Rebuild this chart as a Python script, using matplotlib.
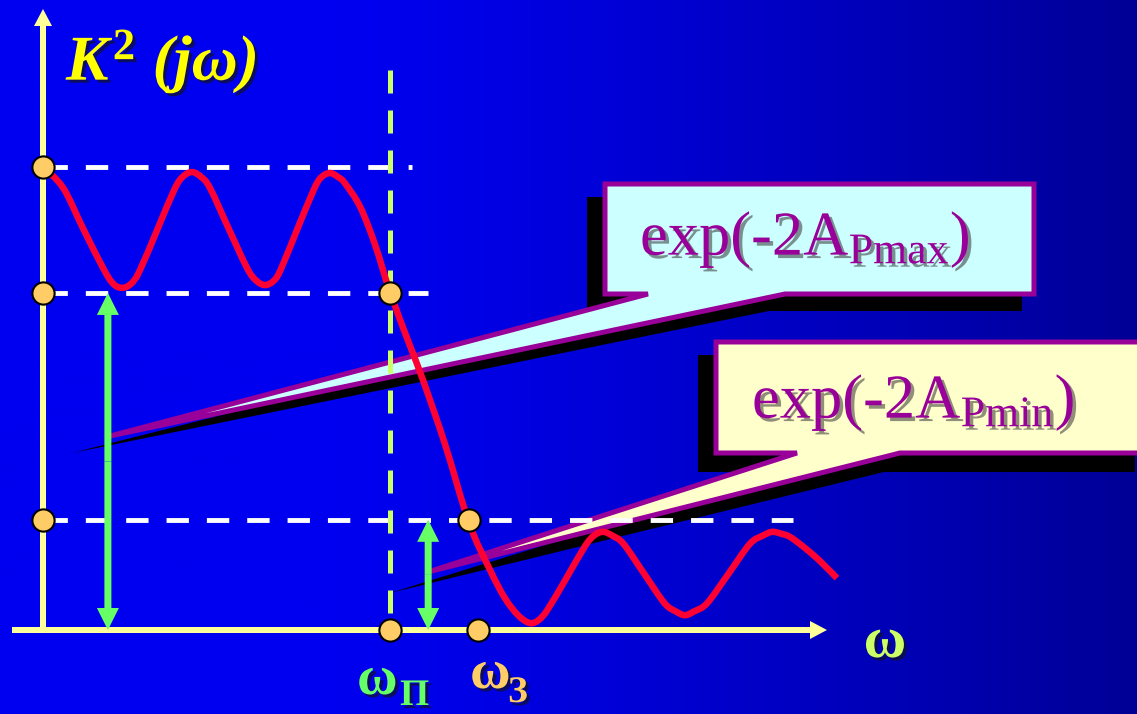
import numpy as np
import matplotlib
matplotlib.use("Agg")
import matplotlib.pyplot as plt
import matplotlib.transforms as mtransforms
from matplotlib.patches import Polygon, PathPatch
from matplotlib.path import Path
from matplotlib import patheffects as pe

plt.rcParams["font.family"] = ["Liberation Serif", "DejaVu Serif"]
plt.rcParams["mathtext.fontset"] = "custom"
plt.rcParams["mathtext.rm"] = "Liberation Serif"
plt.rcParams["mathtext.it"] = "Liberation Serif:italic:bold"
plt.rcParams["mathtext.bf"] = "Liberation Serif:bold"

# squared magnitude response, frequency normalised to the passband edge (w_P = 1)
omega = [0.000, 0.058, 0.115, 0.173, 0.202, 0.228, 0.254, 0.278, 0.329, 0.379,
         0.403, 0.429, 0.455, 0.481, 0.535, 0.588, 0.614, 0.640, 0.666, 0.686,
         0.733, 0.781, 0.801, 0.827, 0.853, 0.870, 0.914, 0.957, 1.000, 1.058,
         1.095, 1.159, 1.228, 1.288, 1.331, 1.369, 1.403, 1.429, 1.455, 1.509,
         1.562, 1.588, 1.614, 1.640, 1.673, 1.732, 1.791, 1.824, 1.850, 1.876,
         1.914, 1.976, 2.037, 2.075, 2.101, 2.127, 2.153, 2.196, 2.239, 2.288]
k2 = [1.000, 0.955, 0.868, 0.782, 0.748, 0.739, 0.748, 0.775, 0.864, 0.952,
      0.979, 0.989, 0.979, 0.955, 0.867, 0.782, 0.755, 0.745, 0.755, 0.780,
      0.866, 0.952, 0.977, 0.987, 0.977, 0.965, 0.914, 0.832, 0.730, 0.613,
      0.540, 0.400, 0.231, 0.130, 0.069, 0.032, 0.015, 0.022, 0.045, 0.113,
      0.181, 0.204, 0.212, 0.204, 0.186, 0.122, 0.058, 0.040, 0.032, 0.040,
      0.058, 0.122, 0.186, 0.204, 0.212, 0.208, 0.201, 0.177, 0.149, 0.112]

level_top = 1.0
level_pmax = 0.728      # exp(-2A_Pmax)
level_pmin = 0.238      # exp(-2A_Pmin)
w_pass = 1.0
w_stop = 1.254
w_cross = 1.228
hline_levels = [level_top, level_pmax, level_pmin]
hline_ends = [1.063, 1.110, 2.161]
arrow_w = [0.187, 1.110]
arrow_top = [level_pmax, level_pmin]

# layout: pixel position of the origin and pixels per unit
W_PX, H_PX = 1137, 714
X0, Y0 = 43, 630
PX_W, PX_K = 347, 463

RED = "#FF0033"
AXIS = "#FFFF99"
GREEN = "#66FF66"
LIME = "#CCFF66"
ORANGE = "#FFCC66"
PURPLE = "#990099"

fig = plt.figure(figsize=(W_PX / 100, H_PX / 100), dpi=100)
ax = fig.add_axes([0, 0, 1, 1])
xlim = (-X0 / PX_W, (W_PX - X0) / PX_W)
ylim = ((Y0 - H_PX) / PX_K, Y0 / PX_K)
ax.axis("off")

# pixel coords measured from the top-left corner
pix = mtransforms.Affine2D().scale(1 / W_PX, -1 / H_PX).translate(0, 1) + fig.transFigure

# background: bright blue fading to dark blue towards the right
x = np.linspace(0, 1, 800)
t = np.clip((x - 0.3) / 0.7, 0, 1)
grad = np.zeros((1, x.size, 3))
grad[..., 2] = (240 - 90 * t ** 1.2) / 255
ax.imshow(grad, extent=[*xlim, *ylim], aspect="auto", zorder=0)
ax.set_xlim(*xlim)
ax.set_ylim(*ylim)


def callout_pts(L, T, R, B, base_l, base_r, tip):
    return [(L, T), (R, T), (R, B), (base_r, B), tip, (base_l, B), (L, B)]


callouts = [
    dict(box=(605, 184, 1034, 294), base=(648, 785), tip=(110, 436),
         sbox=(587, 197, 1022, 311), sbase=(632, 769), stip=(72, 453), face="#CCFFFF"),
    dict(box=(716, 342, 1160, 453), base=(797, 900), tip=(428, 572),
         sbox=(698, 355, 1135, 472), sbase=(781, 884), stip=(390, 593), face="#FFFFCC"),
]
for c in callouts:
    ax.add_patch(Polygon(callout_pts(*c["sbox"], *c["sbase"], c["stip"]), closed=True,
                         fc="black", lw=0, transform=pix, zorder=1))
    ax.add_patch(Polygon(callout_pts(*c["box"], *c["base"], c["tip"]), closed=True,
                         fc=c["face"], ec=PURPLE, lw=3.6, joinstyle="miter",
                         transform=pix, zorder=2))

# axes with arrow heads
ax.arrow(-31 / PX_W, 0, 815 / PX_W, 0, width=6 / PX_K, head_width=18 / PX_K,
         head_length=17 / PX_W, length_includes_head=True, fc=AXIS, ec="none", zorder=3)
ax.arrow(0, -3 / PX_K, 0, 624 / PX_K, width=6 / PX_W, head_width=18 / PX_W,
         head_length=17 / PX_K, length_includes_head=True, fc=AXIS, ec="none", zorder=3)

# dashed guide lines
for lev, end in zip(hline_levels, hline_ends):
    ax.plot([0.006, end], [lev, lev], color="white", lw=3.5,
            linestyle=(0, (4.6, 3.7)), dash_capstyle="butt", zorder=4)
ax.plot([w_pass, w_pass], [560 / PX_K, 0], color=LIME, lw=3.6,
        linestyle=(0, (4.6, 3.4)), dash_capstyle="butt", zorder=4)

# green double-headed arrows
for w, top in zip(arrow_w, arrow_top):
    mid = top / 2
    for end in (0, top):
        ax.arrow(w, mid, 0, end - mid, width=7 / PX_W, head_width=22 / PX_W,
                 head_length=22 / PX_K, length_includes_head=True,
                 fc=GREEN, ec="none", zorder=5)

# response curve, drawn as a smooth path through the listed points
pts = np.column_stack([omega, k2])
n = len(pts)
verts = [pts[0]]
codes = [Path.MOVETO]
for i in range(n - 1):
    p_prev = pts[max(i - 1, 0)]
    p_next = pts[min(i + 2, n - 1)]
    c1 = pts[i] + (pts[i + 1] - p_prev) / 6
    c2 = pts[i + 1] - (p_next - pts[i]) / 6
    verts += [c1, c2, pts[i + 1]]
    codes += [Path.CURVE4] * 3
ax.add_patch(PathPatch(Path(verts, codes), fill=False, ec=RED, lw=4.7,
                       capstyle="butt", joinstyle="round", zorder=6))

# marked points
dots_w = [0, 0, 0, w_pass, w_cross, w_pass, w_stop]
dots_k = [level_top, level_pmax, level_pmin, level_pmax, level_pmin, 0, 0]
ax.plot(dots_w, dots_k, "o", ms=16, mfc=ORANGE, mec="black", mew=1.5, zorder=7)

shadow = [pe.withSimplePatchShadow(offset=(2.2, -2.2), shadow_rgbFace="#111133", alpha=0.75)]
soft = [pe.withSimplePatchShadow(offset=(2.5, -2.5), shadow_rgbFace="#333333", alpha=0.55)]

ax.text(66, 80, r"$K^{\mathbf{2}}$ ($j\omega$)", transform=pix, fontsize=46,
        fontweight="bold", fontstyle="italic", color="#FFFF00",
        ha="left", va="baseline", path_effects=shadow, zorder=8)
ax.text(640, 255, r"exp(-2A$_{\mathrm{Pmax}}$)", transform=pix, fontsize=45,
        color=PURPLE, ha="left", va="baseline", path_effects=soft, zorder=8)
ax.text(752, 418, r"exp(-2A$_{\mathrm{Pmin}}$)", transform=pix, fontsize=45,
        color=PURPLE, ha="left", va="baseline", path_effects=soft, zorder=8)

ax.text(885, 657, "ω", transform=pix, fontsize=42, fontweight="bold", color=LIME,
        ha="center", va="baseline", path_effects=shadow, zorder=8)
ax.text(357, 694, "ω", transform=pix, fontsize=40, fontweight="bold", color=GREEN,
        ha="left", va="baseline", path_effects=shadow, zorder=8)
ax.text(400, 705, "П", transform=pix, fontsize=27, fontweight="bold", color=GREEN,
        ha="left", va="baseline", path_effects=shadow, zorder=8)
ax.text(470, 688, "ω", transform=pix, fontsize=40, fontweight="bold", color=ORANGE,
        ha="left", va="baseline", path_effects=shadow, zorder=8)
ax.text(508, 702, "З", transform=pix, fontsize=27, fontweight="bold", color=ORANGE,
        ha="left", va="baseline", path_effects=shadow, zorder=8)

fig.savefig("out.png", dpi=100)
